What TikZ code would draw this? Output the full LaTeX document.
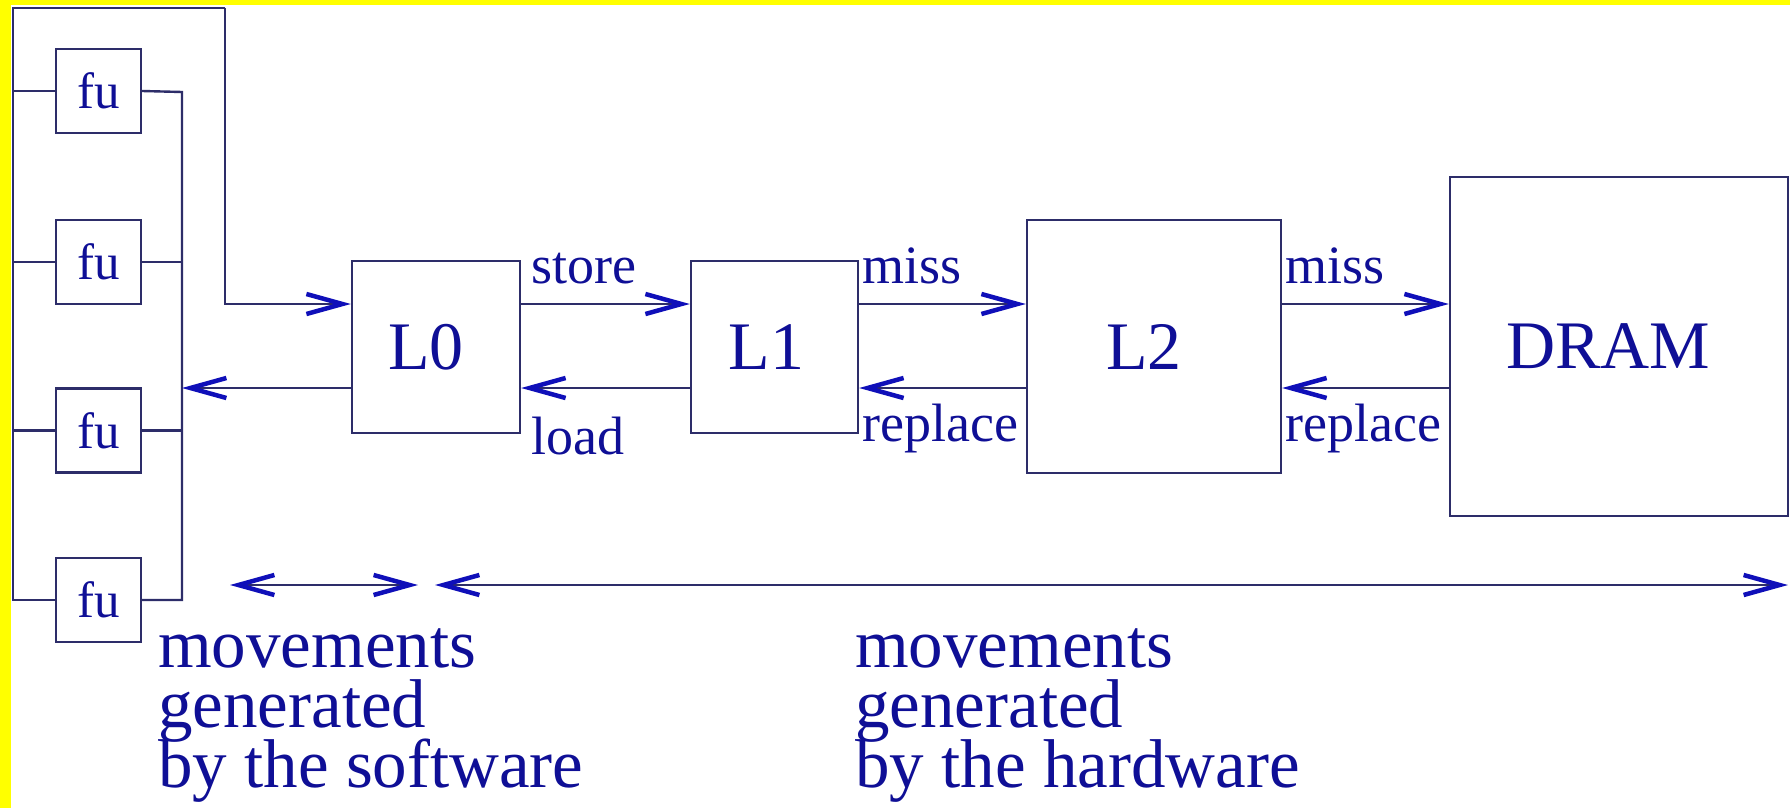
\documentclass[tikz,border=0pt]{standalone}
\usepackage{fontspec}
\setmainfont{Liberation Serif}
\usetikzlibrary{arrows.meta}
\definecolor{linec}{RGB}{45,45,105}
\definecolor{textc}{RGB}{15,15,150}
\definecolor{arrowc}{RGB}{15,15,185}
\definecolor{yel}{RGB}{255,255,0}
\begin{document}
\begin{tikzpicture}[x=1pt,y=-1pt,
  >={Straight Barb[length=36pt,width=20pt,line width=4.5pt,color=arrowc]},
  wire/.style={draw=linec,line width=2.4pt},
  box/.style={draw=linec,line width=2.4pt,fill=white,inner sep=0pt},
  fubox/.style={box,minimum width=85pt,minimum height=84pt,text=textc,
    font=\fontsize{51pt}{51pt}\selectfont},
  bigtext/.style={text=textc,inner sep=0pt,font=\fontsize{68pt}{68pt}\selectfont},
  labtext/.style={text=textc,inner sep=0pt,anchor=base west,font=\fontsize{54pt}{54pt}\selectfont},
  bottext/.style={text=textc,inner sep=0pt,anchor=base west,font=\fontsize{69pt}{69pt}\selectfont}]
\useasboundingbox (0,0) rectangle (1790,808);
\fill[white] (0,0) rectangle (1790,808);
\fill[yel] (0,0) rectangle (11,808);
\fill[yel] (0,0) rectangle (1790,5);

% coordinates
\coordinate (up) at (0,304);
\coordinate (dn) at (0,388);
\coordinate (tl) at (13,8);
\coordinate (tr) at (225,8);
\coordinate (bl) at (13,600);
\coordinate (busT) at (182,92);
\coordinate (busB) at (182,600);

% fu boxes
\node[fubox] (fu1) at (98.5,91) {fu};
\node[fubox] (fu2) at (98.5,262) {fu};
\node[fubox] (fu3) at (98.5,430.5) {fu};
\node[fubox] (fu4) at (98.5,600) {fu};

% memory boxes
\node[box,minimum width=168pt,minimum height=172pt] (L0) at (436,347) {};
\node[box,minimum width=167pt,minimum height=172pt] (L1) at (774.5,347) {};
\node[box,minimum width=254pt,minimum height=253pt] (L2) at (1154,346.5) {};
\node[box,minimum width=338pt,minimum height=339pt] (DRAM) at (1619,346.5) {};
\node[bigtext] (L0t) at ([xshift=-10pt]L0.center) {L0};
\node[bigtext] (L1t) at ([xshift=-8pt]L1.center) {L1};
\node[bigtext] (L2t) at ([xshift=-10pt]L2.center) {L2};
\node[bigtext] (DRAMt) at ([xshift=-11pt]DRAM.center) {DRAM};

% fu wiring
\draw[wire] (fu4.west) -- (bl) -- (tl) -- (tr);
\draw[wire] (tl |- fu1.west) -- (fu1.west);
\draw[wire] (tl |- fu2.west) -- (fu2.west);
\draw[wire] (tl |- fu3.west) -- (fu3.west);
\draw[wire] (fu1.east) -- (busT) -- (busB) -- (fu4.east);
\draw[wire] (fu2.east) -- (busT |- fu2.east);
\draw[wire] (fu3.east) -- (busT |- fu3.east);
\draw[wire,->] (tr) |- (L0.west |- up);
\draw[wire,->] (L0.west |- dn) -- (busT |- dn);

% level arrows
\draw[wire,->] (L0.east |- up) -- (L1.west |- up);
\draw[wire,->] (L1.west |- dn) -- (L0.east |- dn);
\draw[wire,->] (L1.east |- up) -- (L2.west |- up);
\draw[wire,->] (L2.west |- dn) -- (L1.east |- dn);
\draw[wire,->] (L2.east |- up) -- (DRAM.west |- up);
\draw[wire,->] (DRAM.west |- dn) -- (L2.east |- dn);

% labels
\node[labtext] (store) at (531,283) {store};
\node[labtext] (load) at (531,454) {load};
\node[labtext] (miss1) at (862,283) {miss};
\node[labtext] (repl1) at (862,441) {replace};
\node[labtext] (miss2) at (1285,283) {miss};
\node[labtext] (repl2) at (1285,441) {replace};

% bottom ranges
\coordinate (s1) at (230,585);
\coordinate (s2) at (418,585);
\coordinate (h1) at (435,585);
\coordinate (h2) at (1788,585);
\draw[wire,<->] (s1) -- (s2);
\draw[wire,<->] (h1) -- (h2);

\node[bottext] (sw1) at (158,667) {movements};
\node[bottext] (sw2) at (158,727) {generated};
\node[bottext] (sw3) at (158,787) {by the software};
\node[bottext] (hw1) at (855,667) {movements};
\node[bottext] (hw2) at (855,727) {generated};
\node[bottext] (hw3) at (855,787) {by the hardware};
\end{tikzpicture}
\end{document}
